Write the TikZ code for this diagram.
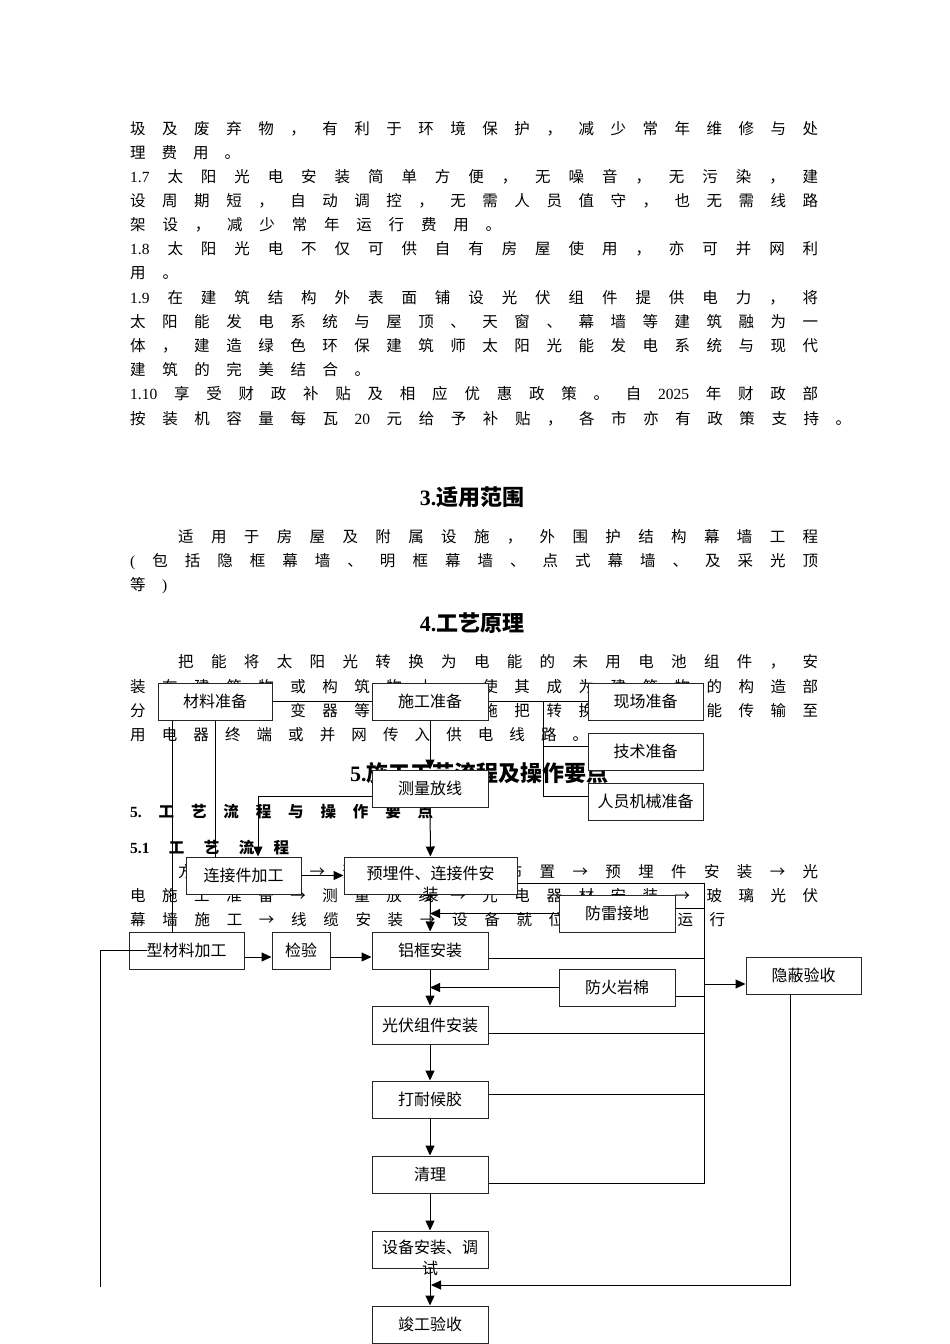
\documentclass[tikz,border=0pt]{standalone}
\usepackage{fontspec}
\setmainfont{Noto Sans CJK SC}
\newfontfamily\lat{Liberation Serif}
\usetikzlibrary{arrows.meta,calc}
\makeatletter
\newcommand\sprd[2]{\makebox[#1][s]{\@tfor\sp@x:=#2\do{{\sp@x}\hfill}\unskip}}
\makeatother
\begin{document}
\begin{tikzpicture}[x=1pt,y=-1pt,
  txt/.style={anchor=base west,inner sep=0,font=\fontsize{15.5}{18}\selectfont},
  btxt/.style={anchor=base west,inner sep=0,font=\fontsize{15.5}{18}\selectfont\bfseries},
  head/.style={inner sep=0,font=\fontsize{22}{26}\selectfont\bfseries},
  bx/.style={draw=black!85,fill=white,line width=1pt,minimum width=116pt,minimum height=37pt,inner sep=0,font=\fontsize{16}{21}\selectfont},
  bt/.style={inner sep=0,align=center,font=\fontsize{16}{21}\selectfont},
  ln/.style={draw=black,line width=1pt},
  arr/.style={ln,-{Triangle[length=10pt,width=9pt]}}]
\fill[white] (0,0) rectangle (950,1344);
\useasboundingbox (0,0) rectangle (950,1344);
% ---------- body text ----------
\node[txt] (t1) at (130,134) {\sprd{688pt}{圾及废弃物，有利于环境保护，减少常年维修与处}};
\node[txt] (t2) at (130,158) {\sprd{110pt}{理费用。}};
\node[txt] (t3) at (130,182) {\sprd{688pt}{{\lat 1.7}太阳光电安装简单方便，无噪音，无污染，建}};
\node[txt] (t4) at (130,206) {\sprd{688pt}{设周期短，自动调控，无需人员值守，也无需线路}};
\node[txt] (t5) at (130,230) {\sprd{371pt}{架设，减少常年运行费用。}};
\node[txt] (t6) at (130,254) {\sprd{688pt}{{\lat 1.8}太阳光电不仅可供自有房屋使用，亦可并网利}};
\node[txt] (t7) at (130,278) {\sprd{48pt}{用。}};
\node[txt] (t8) at (130,303) {\sprd{688pt}{{\lat 1.9}在建筑结构外表面铺设光伏组件提供电力，将}};
\node[txt] (t9) at (130,327) {\sprd{688pt}{太阳能发电系统与屋顶、天窗、幕墙等建筑融为一}};
\node[txt] (t10) at (130,351) {\sprd{688pt}{体，建造绿色环保建筑师太阳光能发电系统与现代}};
\node[txt] (t11) at (130,375) {\sprd{240pt}{建筑的完美结合。}};
\node[txt] (t12) at (130,399) {\sprd{688pt}{{\lat 1.10}享受财政补贴及相应优惠政策。自{\lat 2025}年财政部}};
\node[txt] (t13) at (130,424) {\sprd{721pt}{按装机容量每瓦{\lat 20}元给予补贴，各市亦有政策支持。}};
\node[head] (h3) at (472,497) {{\lat 3.}适用范围};
\node[txt] (s1) at (178,542) {\sprd{640pt}{适用于房屋及附属设施，外围护结构幕墙工程}};
\node[txt] (s2) at (130,566) {\sprd{688pt}{{\lat (}包括隐框幕墙、明框幕墙、点式幕墙、及采光顶}};
\node[txt] (s3) at (130,590) {\sprd{37pt}{等{\lat )}}};
\node[head] (h4) at (472,623) {{\lat 4.}工艺原理};
\node[txt] (p1) at (178,667) {\sprd{640pt}{把能将太阳光转换为电能的未用电池组件，安}};
\node[txt] (p2) at (130,692) {\sprd{688pt}{装在建筑物或构筑物上，使其成为建筑物的构造部}};
\node[txt] (p3) at (130,716) {\sprd{688pt}{分，通过逆变器等配套设施把转换后的电能传输至}};
\node[txt] (p4) at (130,740) {\sprd{458pt}{用电器终端或并网传入供电线路。}};
\node[head,anchor=west] (h5) at (350,773) {{\lat 5.}施工工艺流程及操作要点};
\node[btxt] (q1) at (130,817) {\sprd{303pt}{{\lat 5.}工艺流程与操作要点}};
\node[btxt] (q2) at (130,853) {\sprd{159pt}{{\lat 5.1}工艺流程}};
\node[txt] (q3) at (178,877) {\sprd{640pt}{方案设计→预埋件定位布置→预埋件安装→光}};
\node[txt] (q4) at (130,901) {\sprd{688pt}{电施工准备→测量放线→光电器材安装→玻璃光伏}};
\node[txt] (q5) at (130,925) {\sprd{595pt}{幕墙施工→线缆安装→设备就位→调试运行}};
% ---------- boxes ----------
\node[bx,minimum width=114pt] (clzb) at (215,701.5) {材料准备};
\node[bx] (sgzb) at (430,701.5) {施工准备};
\node[bx,minimum width=115pt] (xczb) at (645.5,701.5) {现场准备};
\node[bx,minimum width=115pt] (jszb) at (645.5,751.5) {技术准备};
\node[bx,minimum width=115pt] (rjzb) at (645.5,801.5) {人员机械准备};
\node[bx] (clfx) at (430,788.5) {测量放线};
\node[bx,minimum width=115pt] (ljj) at (243.5,875.5) {连接件加工};
\node[bx,minimum width=173pt] (ymj) at (430.5,875.5) {};
\node[bt] (ymjt) at (430.5,884) {预埋件、连接件安\\装};
\node[bx] (flj) at (617,913.5) {防雷接地};
\node[bx,minimum width=115pt] (xcl) at (186.5,950.5) {型材料加工};
\node[bx,minimum width=58pt] (jy) at (301,950.5) {检验};
\node[bx] (lk) at (430,950.5) {铝框安装};
\node[bx] (fhym) at (617,987.5) {防火岩棉};
\node[bx,minimum width=115pt] (ybys) at (803.5,975.5) {隐蔽验收};
\node[bx,minimum height=38pt] (gf) at (430,1025) {光伏组件安装};
\node[bx] (dnhj) at (430,1099.5) {打耐候胶};
\node[bx] (ql) at (430,1174.5) {清理};
\node[bx] (sbaz) at (430,1249.5) {};
\node[bt] (sbazt) at (430,1258) {设备安装、调\\试};
\node[bx] (jgys) at (430,1324.5) {竣工验收};
% ---------- coordinates ----------
\coordinate (j1) at (543,701.5);
\coordinate (j2) at (543,746);
\coordinate (r0) at (704,883);
\coordinate (r1) at (704,908);
\coordinate (r2) at (704,958);
\coordinate (r3) at (704,984);
\coordinate (r4) at (704,996);
\coordinate (r5) at (704,1033);
\coordinate (r6) at (704,1094);
\coordinate (r7) at (704,1183);
\coordinate (lb) at (100,1287);
\coordinate (m1) at (431,1285);
% ---------- connectors ----------
\draw[ln] (clzb.east) -- (sgzb.west);
\draw[ln] (sgzb.east) -- (xczb.west);
\draw[ln] (j1) |- ([yshift=5.5pt]rjzb.west);
\draw[ln] (j2) -- ([yshift=5.5pt]jszb.west);
\draw[arr] (sgzb) -- (clfx);
\draw[arr] ([yshift=-7.5pt]clfx.west) -| ([xshift=14.5pt]ljj.north);
\draw[arr] (clfx) -- (ymj);
\draw[ln] (clzb.south) -- (clzb.south |- ljj.north);
\draw[ln] ([xshift=-43pt]clzb.south) -- ([xshift=-14.5pt]xcl.north);
\draw[arr] (ljj) -- (ymj);
\draw[arr] (ymj) -- (lk);
\draw[arr] (flj.west) -- (flj.west -| lk);
\draw[arr] (fhym.west) -- (fhym.west -| lk);
\draw[ln] ([yshift=-7.5pt]ymj.east) -- (r0) -- (r7) -- ([yshift=-8.5pt]ql.east);
\draw[ln] ([yshift=5.5pt]flj.east) -- (r1);
\draw[ln] ([yshift=-7.5pt]lk.east) -- (r2);
\draw[ln] ([yshift=-8.5pt]fhym.east) -- (r4);
\draw[ln] ([yshift=-8pt]gf.east) -- (r5);
\draw[ln] ([yshift=5.5pt]dnhj.east) -- (r6);
\draw[arr] (r3) -- ([yshift=-8.5pt]ybys.west);
\draw[arr] ([yshift=-6.5pt]xcl.east) -- ([yshift=-6.5pt]jy.west);
\draw[arr] ([yshift=-6.5pt]jy.east) -- ([yshift=-6.5pt]lk.west);
\draw[arr] (lk) -- (gf);
\draw[arr] (gf) -- (dnhj);
\draw[arr] (dnhj) -- (ql);
\draw[arr] (ql) -- (sbaz);
\draw[arr] (sbaz) -- (jgys);
\draw[ln] ([xshift=-39.5pt]xcl.center) -| (lb);
\draw[arr] ([xshift=-13.5pt]ybys.south) |- (m1);
\end{tikzpicture}
\end{document}
